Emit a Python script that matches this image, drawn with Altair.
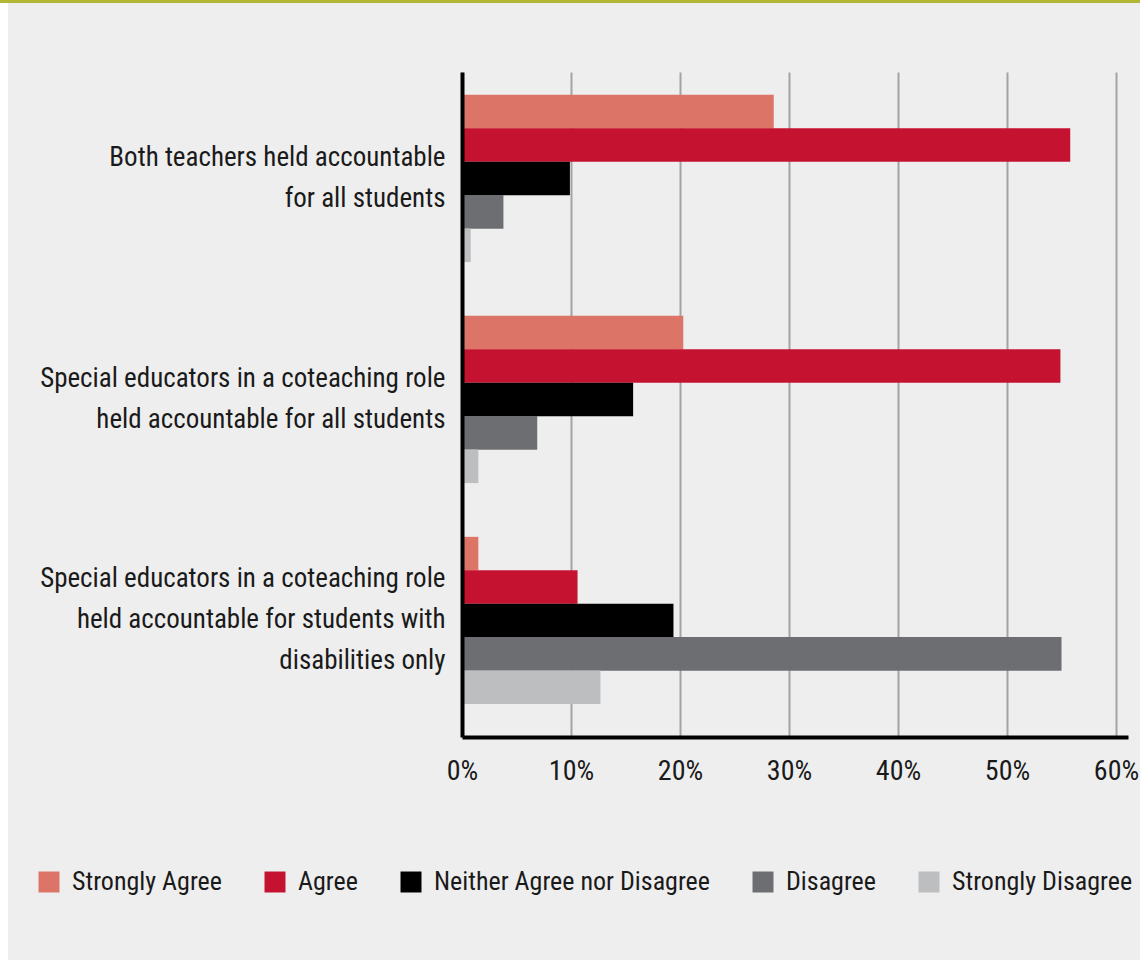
import altair as alt
import pandas as pd

questions = [
    "Both teachers held accountable|for all students",
    "Special educators in a coteaching role|held accountable for all students",
    "Special educators in a coteaching role|held accountable for students with|disabilities only",
]
categories = ["Strongly Agree", "Agree", "Neither Agree nor Disagree", "Disagree", "Strongly Disagree"]
colors = ["#dc7468", "#c41230", "#000000", "#6d6e71", "#bcbec0"]
values = [
    [0.286, 0.558, 0.099, 0.038, 0.008],
    [0.203, 0.549, 0.157, 0.069, 0.015],
    [0.015, 0.106, 0.194, 0.550, 0.127],
]
tick_values = [0, 0.1, 0.2, 0.3, 0.4, 0.5, 0.6]

rows = []
for q, vals in zip(questions, values):
    for c, v in zip(categories, vals):
        rows.append({"question": q, "category": c, "value": v})
df = pd.DataFrame(rows)

FONT = "Roboto Condensed, Liberation Sans Narrow, Arial Narrow, DejaVu Sans Condensed, Liberation Sans"
LINE_H = 41

# shift each multi-line label up by half its extra height so it is centred on its group
label_offset = {
    "condition": {"test": "length(split(datum.value, '|')) >= 3", "value": -LINE_H},
    "value": -LINE_H / 2,
}

bars = alt.Chart(df).mark_bar(size=33.6).encode(
    x=alt.X("value:Q",
            scale=alt.Scale(domain=[0, 0.611], nice=False, zero=True),
            axis=alt.Axis(values=tick_values, format=".0%", title=None,
                          grid=True, gridColor="#a3a3a5", gridWidth=2,
                          domainColor="#000000", domainWidth=4,
                          ticks=False, labelPadding=20, labelFontSize=28,
                          labelFont=FONT, labelColor="#1a1a1a", labelFlush=False)),
    y=alt.Y("question:N", sort=questions,
            scale=alt.Scale(paddingInner=0.244, paddingOuter=0.1265, align=0.41),
            axis=alt.Axis(title=None, labelExpr="split(datum.label, '|')",
                          labelFontSize=27, labelFont=FONT, labelColor="#1a1a1a",
                          labelLineHeight=LINE_H, labelPadding=17, ticks=False,
                          labelOffset=label_offset,
                          domainColor="#000000", domainWidth=4, labelLimit=500,
                          zindex=1)),
    yOffset=alt.YOffset("category:N", sort=categories,
                        scale=alt.Scale(paddingInner=0, paddingOuter=0)),
    color=alt.Color("category:N", sort=categories,
                    scale=alt.Scale(domain=categories, range=colors),
                    legend=alt.Legend(title=None, orient="none", direction="horizontal",
                                      columns=5, legendX=-426, legendY=797,
                                      symbolType="square", symbolSize=440,
                                      symbolStrokeWidth=0, symbolOpacity=1,
                                      labelFontSize=26, labelFont=FONT, labelColor="#1a1a1a",
                                      labelOffset=10, columnPadding=40, labelLimit=400)),
)

top_border = alt.Chart(pd.DataFrame({"k": [0]})).mark_rect(color="#b0b834", clip=False).encode(
    x=alt.value(-462), x2=alt.value(678), y=alt.value(-72), y2=alt.value(-69)
)
left_strip = alt.Chart(pd.DataFrame({"k": [0]})).mark_rect(color="#ffffff", clip=False).encode(
    x=alt.value(-462), x2=alt.value(-454), y=alt.value(-69), y2=alt.value(888)
)

chart = alt.layer(bars, top_border, left_strip).properties(
    width=666, height=665,
    background="#eeeeee",
    padding={"left": 462, "top": 72, "right": 12, "bottom": 223},
    autosize=alt.AutoSizeParams(type="none"),
).configure_view(stroke=None)

chart.save("out.html", embed_options={"renderer": "svg", "actions": False})
